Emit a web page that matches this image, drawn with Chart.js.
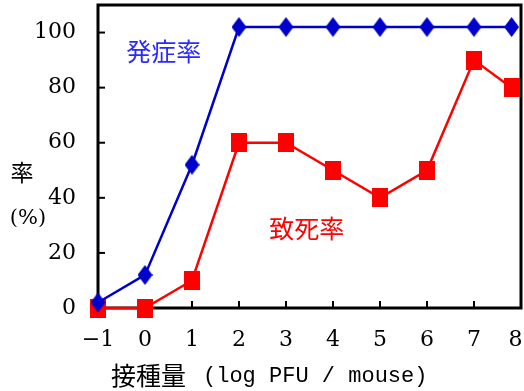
<!DOCTYPE html>
<html>
<head>
<meta charset="utf-8">
<script src="https://cdn.jsdelivr.net/npm/chart.js@4/dist/chart.umd.min.js"></script>
<style>
  html, body { margin: 0; padding: 0; background: #fff; }
  #wrap { width: 524px; height: 391px; }
</style>
</head>
<body>
<div id="wrap"><canvas id="rateChart"></canvas></div>
<script>
const doseLog = [-1, 0, 1, 2, 3, 4, 5, 6, 7, 7.8];
const onsetRate = [2, 12, 52, 102, 102, 102, 102, 102, 102, 102];
const deathRate = [0, 0, 10, 60, 60, 50, 40, 50, 90, 80];
const yTicks = [0, 20, 40, 60, 80, 100];

const BLUE = '#0000cc';
const RED = '#ff0000';
const serif = '"DejaVu Serif", serif';
const cjk = '"Noto Sans CJK JP", sans-serif';

const makeMarker = (w, h, color, diamond) => {
    const c = document.createElement('canvas');
    c.width = w; c.height = h;
    const g = c.getContext('2d');
    g.fillStyle = color;
    if (diamond) {
        g.beginPath();
        g.moveTo(w / 2, 0); g.lineTo(w, h / 2); g.lineTo(w / 2, h); g.lineTo(0, h / 2);
        g.closePath(); g.fill();
    } else {
        g.fillRect(0, 0, w, h);
    }
    return c;
};

const frame = {
    id: 'frame',
    beforeDatasetsDraw(chart) {
        const { ctx, chartArea: a, scales: { x, y } } = chart;
        ctx.save();
        ctx.strokeStyle = '#000';
        ctx.lineWidth = 2;
        // ticks point inward
        x.ticks.forEach(t => {
            const px = x.getPixelForValue(t.value);
            ctx.beginPath(); ctx.moveTo(px, a.bottom); ctx.lineTo(px, a.bottom - 7); ctx.stroke();
        });
        y.ticks.forEach(t => {
            const py = y.getPixelForValue(t.value);
            ctx.beginPath(); ctx.moveTo(a.left, py); ctx.lineTo(a.left + 7, py); ctx.stroke();
        });
        ctx.lineWidth = 3;
        ctx.strokeRect(a.left, a.top, a.right - a.left, a.bottom - a.top);
        ctx.restore();
    },
    afterDraw(chart) {
        const { ctx, scales: { x, y } } = chart;
        ctx.save();
        ctx.textBaseline = 'middle';
        ctx.fillStyle = '#000';
        ctx.textAlign = 'center';
        ctx.font = '23px ' + cjk;
        ctx.fillText('率', 22, 172);
        ctx.font = '21px ' + serif;
        ctx.fillText('(%)', 28, 219);
        ctx.textAlign = 'left';
        ctx.font = '25px ' + cjk;
        ctx.fillText('接種量', 111, 375);
        ctx.font = '22px "Liberation Mono", monospace';
        ctx.fillText('(log PFU / mouse)', 203, 376);
        ctx.textAlign = 'center';
        ctx.font = '25px ' + cjk;
        ctx.fillStyle = '#2a2aff';
        ctx.fillText('発症率', x.getPixelForValue(0.4), y.getPixelForValue(93));
        ctx.fillStyle = RED;
        ctx.fillText('致死率', x.getPixelForValue(3.44), y.getPixelForValue(29));
        ctx.restore();
    }
};

new Chart(document.getElementById('rateChart'), {
    type: 'line',
    data: {
        datasets: [{
            label: '発症率',
            data: doseLog.map((v, i) => ({ x: v, y: onsetRate[i] })),
            borderColor: BLUE,
            borderWidth: 2.5,
            pointStyle: makeMarker(15, 20, BLUE, true),
            pointRadius: 8,
            clip: false,
            order: 0
        }, {
            label: '致死率',
            data: doseLog.map((v, i) => ({ x: v, y: deathRate[i] })),
            borderColor: RED,
            borderWidth: 2.5,
            pointStyle: makeMarker(16, 19, RED, false),
            pointRadius: 8,
            clip: false,
            order: 1
        }]
    },
    options: {
        responsive: true,
        maintainAspectRatio: false,
        animation: false,
        layout: { autoPadding: false, padding: { top: 5, right: 3 } },
        plugins: { legend: { display: false }, tooltip: { enabled: false } },
        scales: {
            x: {
                type: 'linear', min: -1, max: 8,
                grid: { display: false }, border: { display: false },
                ticks: { stepSize: 1, color: '#000', padding: 11, maxRotation: 0,
                    font: { family: serif, size: 22 },
                    // last label nudged left so it stays inside the canvas
                    callback: v => (v < 0 ? '\u2212' + Math.abs(v) : v === 8 ? '8\u2002' : String(v)) },
                afterFit: s => { s.height = 83; s.paddingLeft = 0; s.paddingRight = 0; }
            },
            y: {
                min: 0, max: 110,
                grid: { display: false }, border: { display: false },
                afterBuildTicks: s => { s.ticks = yTicks.map(v => ({ value: v })); },
                ticks: { color: '#000', padding: 14, font: { family: serif, size: 22 } },
                afterFit: s => { s.width = 98; s.paddingTop = 0; s.paddingBottom = 0; }
            }
        }
    },
    plugins: [frame]
});
</script>
</body>
</html>
